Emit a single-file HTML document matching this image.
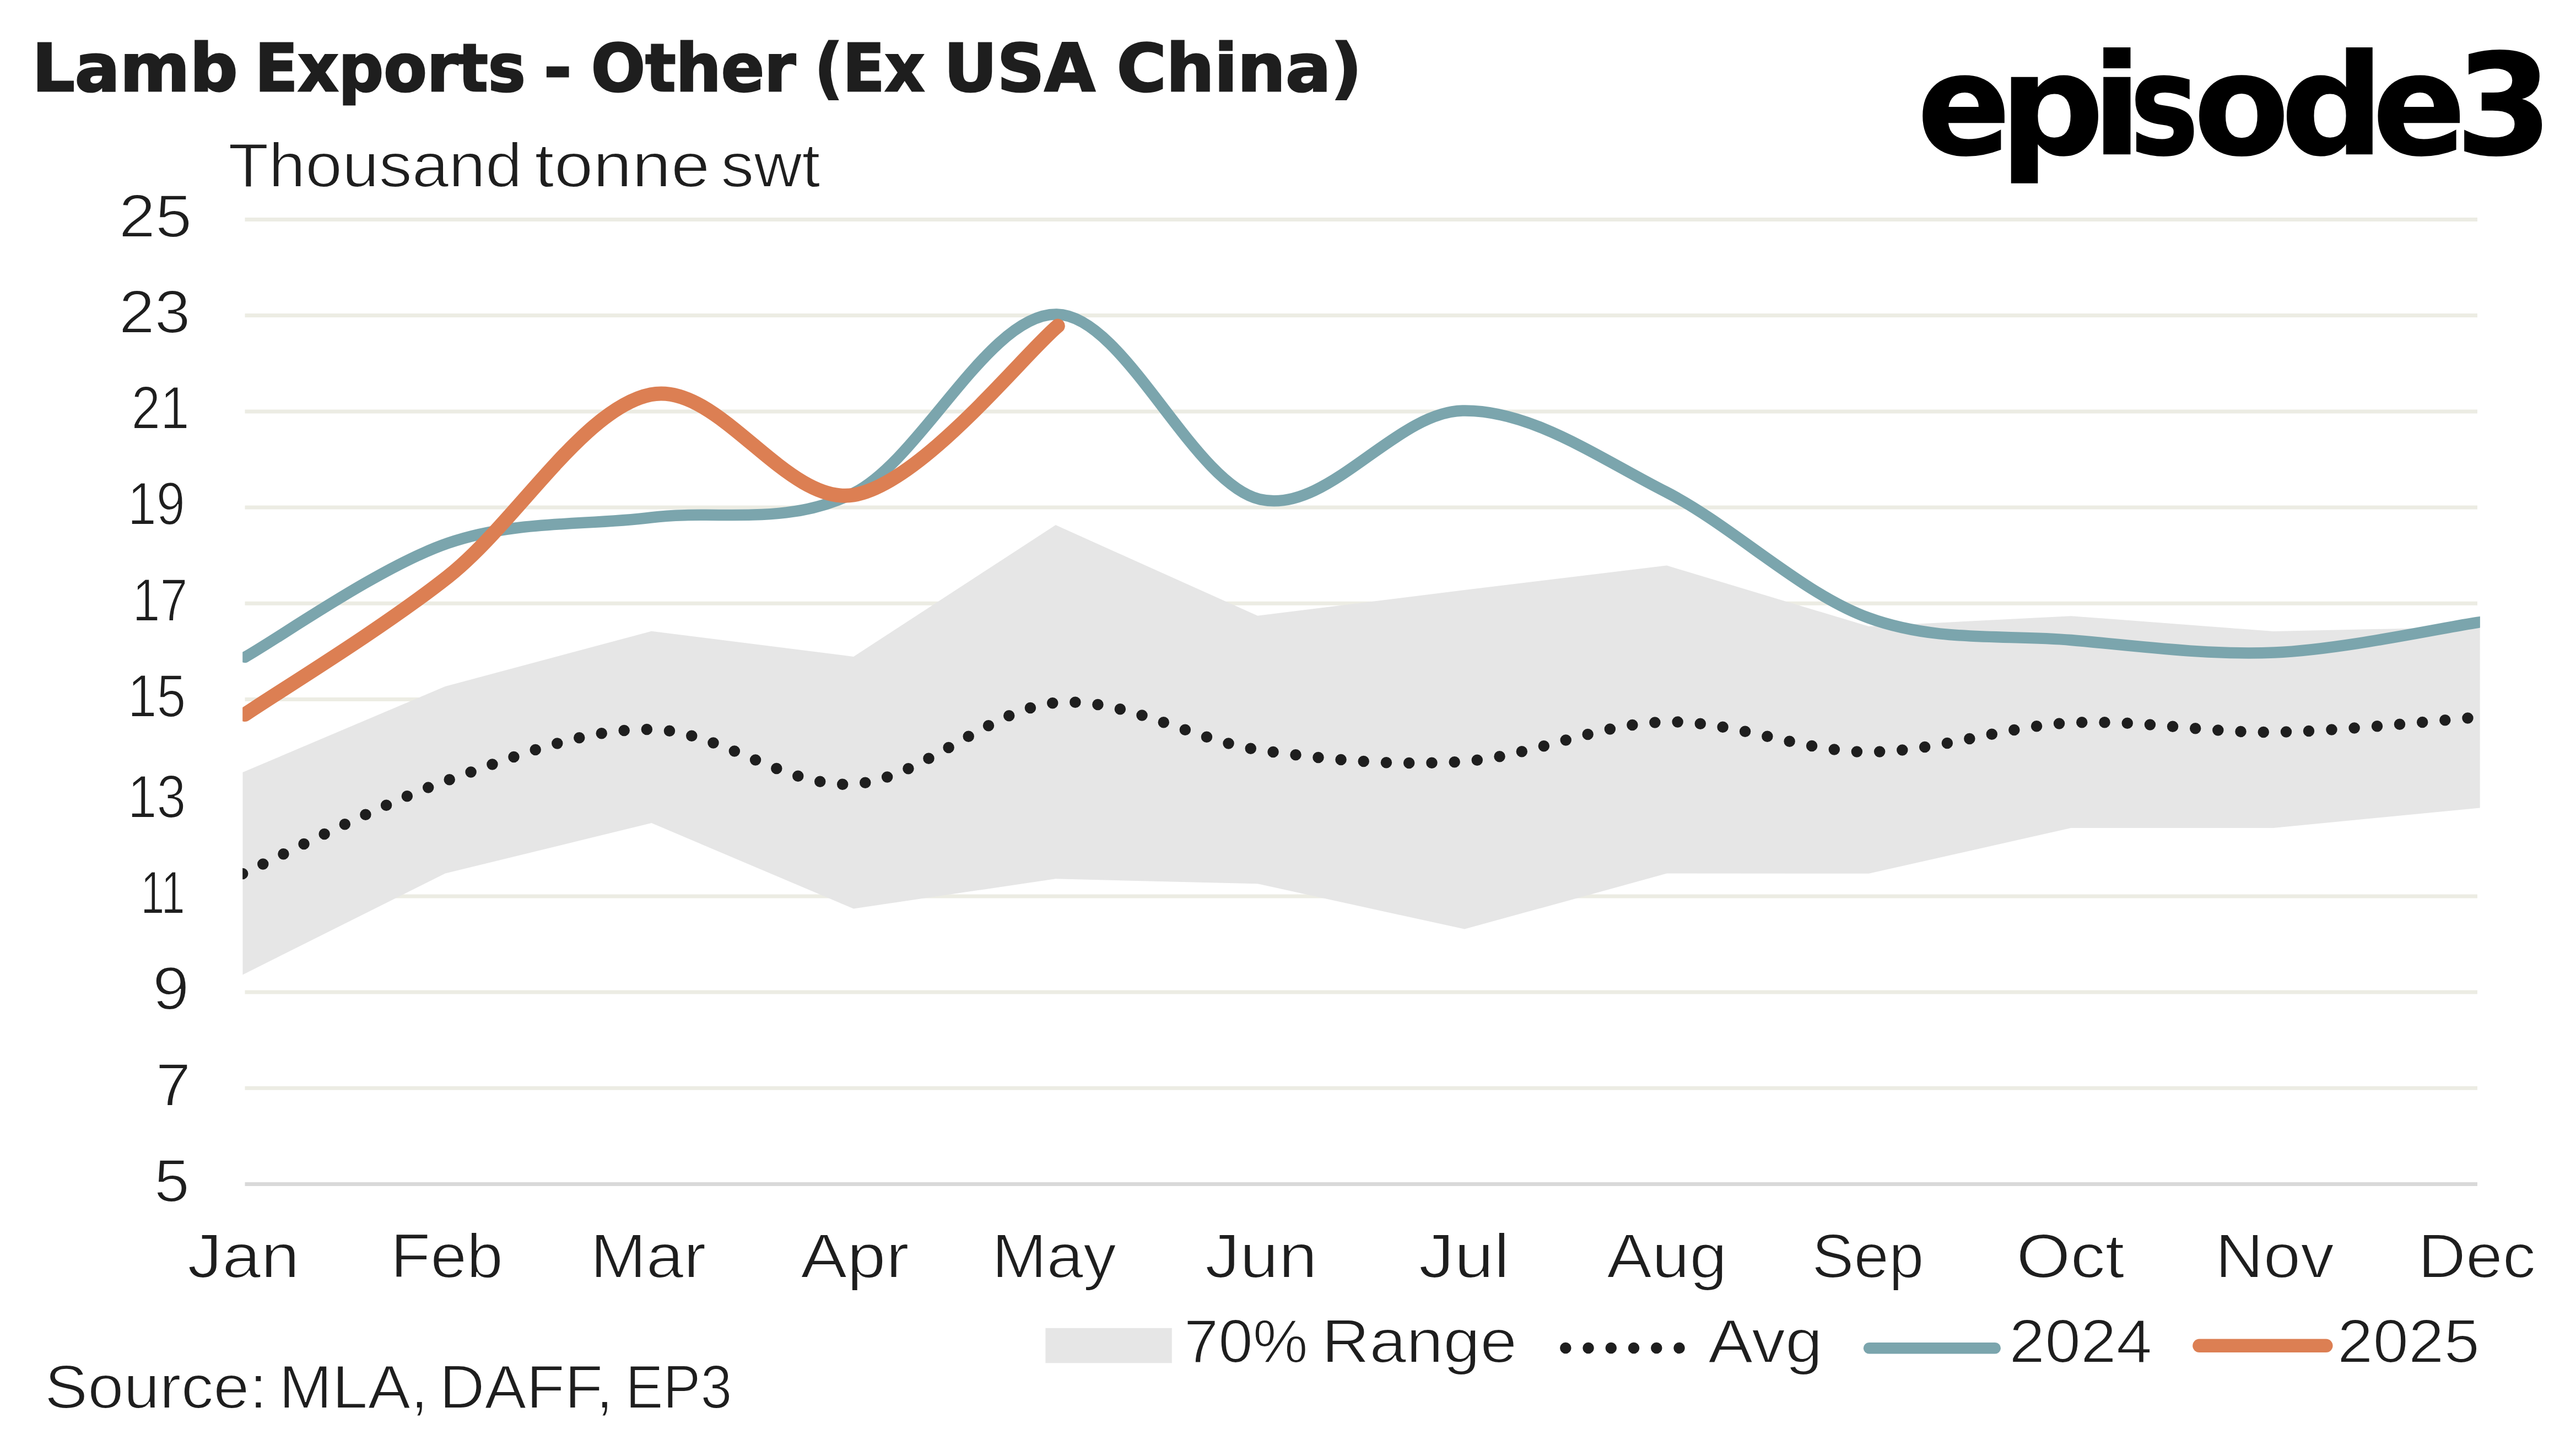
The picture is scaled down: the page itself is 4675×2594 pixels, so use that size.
<!DOCTYPE html>
<html lang="en"><head><meta charset="utf-8"><title>Lamb Exports - Other (Ex USA China)</title>
<style>html,body{margin:0;padding:0;background:#fff}body{width:4675px;height:2594px;overflow:hidden}svg{display:block}text{font-family:"Liberation Sans",sans-serif;fill:#1e1e1e}.b{font-weight:700}</style></head><body>
<svg width="4675" height="2594" viewBox="0 0 4675 2594">
<rect width="4675" height="2594" fill="#fff"/>
<defs><clipPath id="plot"><rect x="440.2" y="300" width="4060.7" height="1900"/></clipPath></defs>
<g fill="#ecece3">
<rect x="444.5" y="395.0" width="4051.5" height="7"/>
<rect x="444.5" y="569.1" width="4051.5" height="7"/>
<rect x="444.5" y="743.5" width="4051.5" height="7"/>
<rect x="444.5" y="917.6" width="4051.5" height="7"/>
<rect x="444.5" y="1091.8" width="4051.5" height="7"/>
<rect x="444.5" y="1266.0" width="4051.5" height="7"/>
<rect x="444.5" y="1449.3" width="4051.5" height="7"/>
<rect x="444.5" y="1623.5" width="4051.5" height="7"/>
<rect x="444.5" y="1797.5" width="4051.5" height="7"/>
<rect x="444.5" y="1971.7" width="4051.5" height="7"/>
</g>
<rect x="444.5" y="2146" width="4051.5" height="7" fill="#d9d9d9"/>
<g clip-path="url(#plot)">
<polygon fill="#e6e6e6" points="440.3,1402.0 808.0,1246.0 1182.4,1145.7 1549.0,1192.0 1915.8,953.1 2282.4,1117.8 2657.9,1071.0 3025.0,1026.6 3391.4,1137.0 3758.5,1118.2 4125.5,1146.0 4500.8,1138.0 4500.8,1466.5 4125.5,1503.0 3758.5,1503.0 3391.4,1585.8 3025.0,1585.6 2657.9,1686.6 2282.4,1604.3 1915.8,1595.3 1549.0,1649.5 1182.4,1494.0 808.0,1585.5 440.3,1769.5"/>
<path d="M440.2,1586.0 L444.5,1584.0 C505.9,1556.0 690.0,1459.6 812.8,1416.3 C935.6,1373.0 1058.3,1322.8 1181.1,1324.0 C1303.9,1325.2 1426.7,1431.4 1549.5,1423.3 C1672.3,1415.2 1795.0,1285.8 1917.8,1275.5 C2040.6,1265.2 2163.3,1343.7 2286.1,1361.5 C2408.9,1379.3 2531.6,1390.8 2654.4,1382.3 C2777.2,1373.8 2899.9,1313.4 3022.7,1310.5 C3145.5,1307.6 3268.2,1364.8 3391.0,1365.0 C3513.8,1365.2 3636.6,1318.0 3759.4,1312.0 C3882.2,1306.0 4004.9,1330.7 4127.7,1329.0 C4250.5,1327.3 4434.6,1306.5 4496.0,1302.0" fill="none" stroke="#1e1e1e" stroke-width="20.5" stroke-linecap="round" stroke-dasharray="0 41.27"/>
<path d="M444.5,1193.0 C505.9,1158.5 690.0,1028.2 812.8,986.0 C935.6,943.8 1058.3,954.7 1181.1,939.5 C1303.9,924.3 1426.7,956.5 1549.5,895.0 C1672.3,833.5 1795.0,568.6 1917.8,570.5 C2040.6,572.4 2163.3,877.1 2286.1,906.3 C2408.9,935.5 2531.6,747.8 2654.4,745.5 C2777.2,743.2 2899.9,829.8 3022.7,892.5 C3145.5,955.2 3268.2,1076.6 3391.0,1121.5 C3513.8,1166.4 3636.6,1151.5 3759.4,1162.0 C3882.2,1172.5 4004.9,1189.8 4127.7,1184.5 C4250.5,1179.2 4434.6,1139.1 4496.0,1130.0 L4502.0,1129.1" fill="none" stroke="#7ba5ad" stroke-width="20.5" stroke-linecap="round" stroke-linejoin="round"/>
<path d="M444.5,1297.0 C505.9,1255.3 690.0,1143.8 812.8,1047.0 C935.6,950.2 1058.3,741.0 1181.1,716.3 C1303.9,691.5 1426.4,919.3 1549.5,898.5 C1672.6,877.7 1858.1,642.8 1919.8,591.6" fill="none" stroke="#dc7f53" stroke-width="26" stroke-linecap="round" stroke-linejoin="round"/>
</g>
<rect x="1897.4" y="2410.8" width="229.4" height="63.5" fill="#e6e6e6"/>
<path d="M2841.3,2446.9 H3060" fill="none" stroke="#1e1e1e" stroke-width="20.5" stroke-linecap="round" stroke-dasharray="0 41.24"/>
<path d="M3392,2447.2 H3620.8" fill="none" stroke="#7ba5ad" stroke-width="20.4" stroke-linecap="round"/>
<path d="M3991.4,2442.8 H4221.4" fill="none" stroke="#dc7f53" stroke-width="24.4" stroke-linecap="round"/>
<text id="title" y="165.20" font-size="119.50" class="b" stroke="#1e1e1e" stroke-width="3.00" stroke-linejoin="miter" style="font-family:'DejaVu Sans','Liberation Sans',sans-serif;"><tspan x="58.22" textLength="373.41" lengthAdjust="spacingAndGlyphs">Lamb</tspan> <tspan x="462.43" textLength="491.42" lengthAdjust="spacingAndGlyphs">Exports</tspan> <tspan x="986.88" textLength="50.85" lengthAdjust="spacingAndGlyphs">-</tspan> <tspan x="1072.86" textLength="371.24" lengthAdjust="spacingAndGlyphs">Other</tspan> <tspan x="1478.28" textLength="199.59" lengthAdjust="spacingAndGlyphs">(Ex</tspan> <tspan x="1713.04" textLength="274.56" lengthAdjust="spacingAndGlyphs">USA</tspan> <tspan x="2026.68" textLength="444.93" lengthAdjust="spacingAndGlyphs">China)</tspan></text>
<text id="subtitle" y="338.80" font-size="113.50" stroke="#fff" stroke-width="2.00" stroke-linejoin="miter"><tspan x="414.37" textLength="533.35" lengthAdjust="spacingAndGlyphs">Thousand</tspan> <tspan x="970.34" textLength="318.01" lengthAdjust="spacingAndGlyphs">tonne</tspan> <tspan x="1308.31" textLength="180.28" lengthAdjust="spacingAndGlyphs">swt</tspan></text>
<text id="y25" y="429.80" font-size="110.00" stroke="#fff" stroke-width="2.00" stroke-linejoin="miter"><tspan x="215.83" textLength="132.37" lengthAdjust="spacingAndGlyphs">25</tspan></text>
<text id="y23" y="603.90" font-size="110.00" stroke="#fff" stroke-width="2.00" stroke-linejoin="miter"><tspan x="216.01" textLength="129.26" lengthAdjust="spacingAndGlyphs">23</tspan></text>
<text id="y21" y="778.30" font-size="110.00" stroke="#fff" stroke-width="2.00" stroke-linejoin="miter"><tspan x="238.38" textLength="105.30" lengthAdjust="spacingAndGlyphs">21</tspan></text>
<text id="y19" y="952.40" font-size="110.00" stroke="#fff" stroke-width="2.00" stroke-linejoin="miter"><tspan x="231.85" textLength="104.06" lengthAdjust="spacingAndGlyphs">19</tspan></text>
<text id="y17" y="1126.60" font-size="110.00" stroke="#fff" stroke-width="2.00" stroke-linejoin="miter"><tspan x="240.54" textLength="100.06" lengthAdjust="spacingAndGlyphs">17</tspan></text>
<text id="y15" y="1300.80" font-size="110.00" stroke="#fff" stroke-width="2.00" stroke-linejoin="miter"><tspan x="231.74" textLength="105.48" lengthAdjust="spacingAndGlyphs">15</tspan></text>
<text id="y13" y="1484.10" font-size="110.00" stroke="#fff" stroke-width="2.00" stroke-linejoin="miter"><tspan x="231.74" textLength="105.48" lengthAdjust="spacingAndGlyphs">13</tspan></text>
<text id="y11" y="1658.30" font-size="110.00" stroke="#fff" stroke-width="2.00" stroke-linejoin="miter"><tspan x="255.60" textLength="79.94" lengthAdjust="spacingAndGlyphs">11</tspan></text>
<text id="y9" y="1832.30" font-size="110.00" stroke="#fff" stroke-width="2.00" stroke-linejoin="miter"><tspan x="277.09" textLength="66.43" lengthAdjust="spacingAndGlyphs">9</tspan></text>
<text id="y7" y="2006.50" font-size="110.00" stroke="#fff" stroke-width="2.00" stroke-linejoin="miter"><tspan x="282.65" textLength="63.35" lengthAdjust="spacingAndGlyphs">7</tspan></text>
<text id="y5" y="2180.80" font-size="110.00" stroke="#fff" stroke-width="2.00" stroke-linejoin="miter"><tspan x="280.14" textLength="63.81" lengthAdjust="spacingAndGlyphs">5</tspan></text>
<text id="mJan" y="2319.30" font-size="112.50" stroke="#fff" stroke-width="2.00" stroke-linejoin="miter"><tspan x="340.34" textLength="203.16" lengthAdjust="spacingAndGlyphs">Jan</tspan></text>
<text id="mFeb" y="2319.30" font-size="112.50" stroke="#fff" stroke-width="2.00" stroke-linejoin="miter"><tspan x="708.77" textLength="204.21" lengthAdjust="spacingAndGlyphs">Feb</tspan></text>
<text id="mMar" y="2319.30" font-size="112.50" stroke="#fff" stroke-width="2.00" stroke-linejoin="miter"><tspan x="1071.15" textLength="210.13" lengthAdjust="spacingAndGlyphs">Mar</tspan></text>
<text id="mApr" y="2319.30" font-size="112.50" stroke="#fff" stroke-width="2.00" stroke-linejoin="miter"><tspan x="1453.05" textLength="196.71" lengthAdjust="spacingAndGlyphs">Apr</tspan></text>
<text id="mMay" y="2319.30" font-size="112.50" stroke="#fff" stroke-width="2.00" stroke-linejoin="miter"><tspan x="1799.97" textLength="225.92" lengthAdjust="spacingAndGlyphs">May</tspan></text>
<text id="mJun" y="2319.30" font-size="112.50" stroke="#fff" stroke-width="2.00" stroke-linejoin="miter"><tspan x="2186.93" textLength="203.80" lengthAdjust="spacingAndGlyphs">Jun</tspan></text>
<text id="mJul" y="2319.30" font-size="112.50" stroke="#fff" stroke-width="2.00" stroke-linejoin="miter"><tspan x="2574.66" textLength="164.95" lengthAdjust="spacingAndGlyphs">Jul</tspan></text>
<text id="mAug" y="2319.30" font-size="112.50" stroke="#fff" stroke-width="2.00" stroke-linejoin="miter"><tspan x="2916.02" textLength="218.40" lengthAdjust="spacingAndGlyphs">Aug</tspan></text>
<text id="mSep" y="2319.30" font-size="112.50" stroke="#fff" stroke-width="2.00" stroke-linejoin="miter"><tspan x="3288.39" textLength="203.28" lengthAdjust="spacingAndGlyphs">Sep</tspan></text>
<text id="mOct" y="2319.30" font-size="112.50" stroke="#fff" stroke-width="2.00" stroke-linejoin="miter"><tspan x="3659.16" textLength="196.50" lengthAdjust="spacingAndGlyphs">Oct</tspan></text>
<text id="mNov" y="2319.30" font-size="112.50" stroke="#fff" stroke-width="2.00" stroke-linejoin="miter"><tspan x="4020.22" textLength="215.60" lengthAdjust="spacingAndGlyphs">Nov</tspan></text>
<text id="mDec" y="2319.30" font-size="112.50" stroke="#fff" stroke-width="2.00" stroke-linejoin="miter"><tspan x="4388.32" textLength="213.62" lengthAdjust="spacingAndGlyphs">Dec</tspan></text>
<text id="lg1" y="2473.00" font-size="110.50" stroke="#fff" stroke-width="2.00" stroke-linejoin="miter"><tspan x="2148.88" textLength="224.88" lengthAdjust="spacingAndGlyphs">70%</tspan> <tspan x="2398.41" textLength="354.72" lengthAdjust="spacingAndGlyphs">Range</tspan></text>
<text id="lg2" y="2473.00" font-size="110.50" stroke="#fff" stroke-width="2.00" stroke-linejoin="miter"><tspan x="3099.99" textLength="207.79" lengthAdjust="spacingAndGlyphs">Avg</tspan></text>
<text id="lg3" y="2473.00" font-size="110.50" stroke="#fff" stroke-width="2.00" stroke-linejoin="miter"><tspan x="3646.31" textLength="259.38" lengthAdjust="spacingAndGlyphs">2024</tspan></text>
<text id="lg4" y="2473.00" font-size="110.50" stroke="#fff" stroke-width="2.00" stroke-linejoin="miter"><tspan x="4242.05" textLength="257.96" lengthAdjust="spacingAndGlyphs">2025</tspan></text>
<text id="source" y="2556.00" font-size="110.50" stroke="#fff" stroke-width="2.00" stroke-linejoin="miter"><tspan x="81.08" textLength="403.91" lengthAdjust="spacingAndGlyphs">Source:</tspan> <tspan x="506.09" textLength="271.18" lengthAdjust="spacingAndGlyphs">MLA,</tspan> <tspan x="797.52" textLength="315.65" lengthAdjust="spacingAndGlyphs">DAFF,</tspan> <tspan x="1135.14" textLength="193.40" lengthAdjust="spacingAndGlyphs">EP3</tspan></text>
<text id="logo" y="279.20" font-size="253.00" class="b" stroke="#000" stroke-width="2.00" stroke-linejoin="miter" style="fill:#000;font-family:'DejaVu Sans','Liberation Sans',sans-serif;"><tspan x="3479.53" textLength="169.42" lengthAdjust="spacingAndGlyphs">e</tspan><tspan x="3628.48" textLength="190.34" lengthAdjust="spacingAndGlyphs">p</tspan><tspan x="3795.70" textLength="92.39" lengthAdjust="spacingAndGlyphs">i</tspan><tspan x="3865.32" textLength="125.30" lengthAdjust="spacingAndGlyphs">s</tspan><tspan x="3981.33" textLength="173.26" lengthAdjust="spacingAndGlyphs">o</tspan><tspan x="4139.25" textLength="187.47" lengthAdjust="spacingAndGlyphs">d</tspan><tspan x="4305.63" textLength="169.42" lengthAdjust="spacingAndGlyphs">e</tspan><tspan x="4456.20" textLength="176.05" lengthAdjust="spacingAndGlyphs">3</tspan></text>
</svg></body></html>
